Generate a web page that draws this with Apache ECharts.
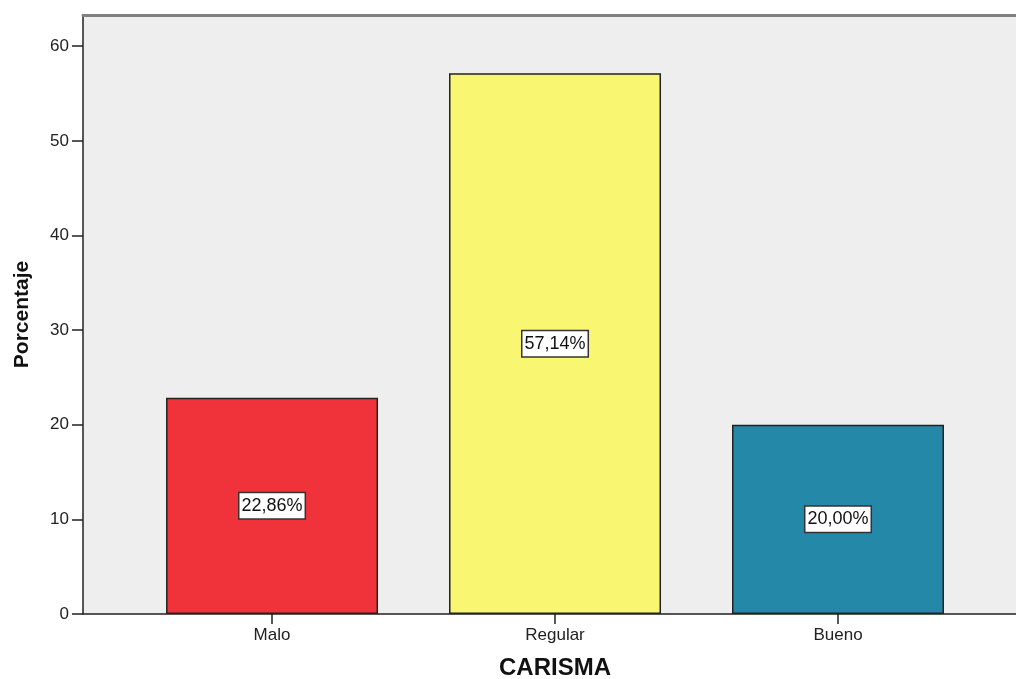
<!DOCTYPE html>
<html>
<head>
<meta charset="utf-8">
<script src="https://cdn.jsdelivr.net/npm/echarts@6/dist/echarts.min.js"></script>
<style>
  html, body { margin: 0; padding: 0; background: #fff; }
  #chart { width: 1016px; height: 679px; }
</style>
</head>
<body>
<div id="chart"></div>
<script>
// CARISMA - percentage bar chart (SPSS style)
const categories = ['Malo', 'Regular', 'Bueno'];
const percentages = [22.86, 57.14, 20.00];
const barColors = ['#F0333A', '#F9F671', '#2488A8'];
const yTicks = [0, 10, 20, 30, 40, 50, 60];

const chart = echarts.init(document.getElementById('chart'));

const fmtPct = v => v.toFixed(2).replace('.', ',') + '%';
const positions = categories.map((c, i) => i);

// x range chosen so that the plot runs off the right edge like the original
const xMin = -0.668, xMax = 2.629;

const option = {
  animation: false,
  textStyle: { fontFamily: '"Liberation Sans", Arial, sans-serif' },
  grid: {
    left: 83,
    right: 0,
    top: 15,
    bottom: 65,
    containLabel: false,
    outerBoundsMode: 'none',
    show: true,
    backgroundColor: '#EEEEEE',
    borderWidth: 0
  },
  xAxis: [
    {
      type: 'value',
      min: xMin,
      max: xMax,
      splitLine: { show: false },
      axisLine: { show: true, onZero: false, lineStyle: { color: '#222', width: 1.5 } },
      axisTick: {
        show: true,
        customValues: positions,
        length: 10,
        lineStyle: { color: '#222', width: 1.5 }
      },
      axisLabel: {
        customValues: positions,
        formatter: v => categories[Math.round(v)] || '',
        color: '#222',
        fontSize: 17,
        margin: 13
      },
      name: 'CARISMA',
      nameLocation: 'middle',
      nameGap: 42,
      nameTextStyle: { fontSize: 24, fontWeight: 'bold', color: '#111', padding: [0, 0, 0, 11] }
    },
    {
      type: 'value',
      position: 'top',
      min: xMin,
      max: xMax,
      splitLine: { show: false },
      axisLine: { show: true, onZero: false, lineStyle: { color: '#808080', width: 3 } },
      axisTick: { show: false },
      axisLabel: { show: false }
    }
  ],
  yAxis: {
    type: 'value',
    min: 0,
    max: 63.3,
    splitLine: { show: false },
    axisLine: { show: true, onZero: false, lineStyle: { color: '#222', width: 1.5 } },
    axisTick: {
      show: true,
      customValues: yTicks,
      length: 11,
      lineStyle: { color: '#222', width: 1.5 }
    },
    axisLabel: {
      customValues: yTicks,
      color: '#222',
      fontSize: 17,
      margin: 14
    },
    name: 'Porcentaje',
    nameLocation: 'middle',
    nameGap: 50,
    nameTextStyle: { fontSize: 21, fontWeight: 'bold', color: '#111' }
  },
  series: [{
    type: 'bar',
    xAxisIndex: 0,
    barWidth: 212,
    data: percentages.map((v, i) => ({
      value: [positions[i], v],
      itemStyle: { color: barColors[i] }
    })),
    itemStyle: { borderColor: '#222', borderWidth: 1.5 },
    label: {
      show: true,
      position: 'inside',
      formatter: p => fmtPct(p.value[1]),
      color: '#111',
      fontSize: 18,
      backgroundColor: '#fff',
      borderColor: '#333',
      borderWidth: 1.5,
      padding: [4, 2, 3, 2]
    }
  }]
};

chart.setOption(option);
</script>
</body>
</html>
